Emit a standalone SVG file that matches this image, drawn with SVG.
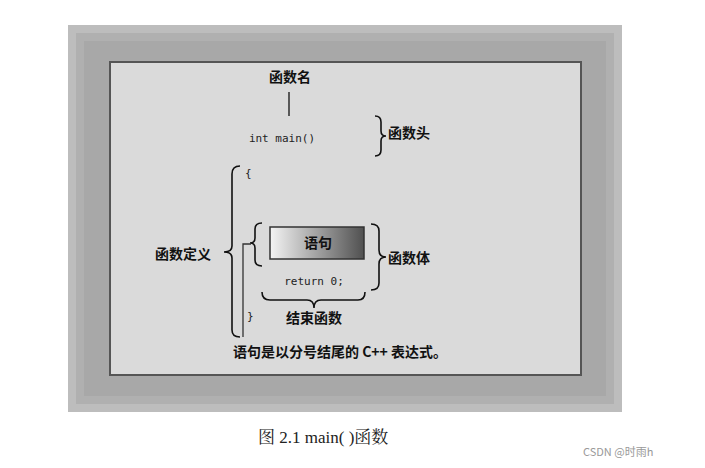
<svg xmlns="http://www.w3.org/2000/svg" width="705" height="468" viewBox="0 0 705 468">
<defs>
<linearGradient id="g" x1="0" x2="1" y1="0" y2="0"><stop offset="0" stop-color="#f4f4f4"/><stop offset="1" stop-color="#505050"/></linearGradient>
<style>
.cn{font-family:"Noto Sans CJK SC",sans-serif;font-weight:bold;font-size:14px;fill:#111}
.mono{font-family:"DejaVu Sans Mono",monospace;font-size:11px;fill:#222}
.br{fill:none;stroke:#111;stroke-width:1.6}
</style>
</defs>
<rect width="705" height="468" fill="#fff"/>
<g id="frame">
<rect x="68" y="25" width="554" height="387" fill="#a8a8a8"/>
<rect x="72" y="29" width="546" height="379" fill="none" stroke="#bdbdbd" stroke-width="8"/>
<rect x="80" y="37" width="530" height="363" fill="none" stroke="#b0b0b0" stroke-width="8"/>
<rect x="110" y="62" width="471" height="313" fill="#dadada" stroke="#555" stroke-width="2"/>
</g>
<g id="connectors">
<line x1="289" y1="92" x2="289" y2="116" stroke="#111" stroke-width="1.3"/>
<path class="br" d="M375 116 Q381 116 381 122 L381 131 Q381 136 386 136 Q381 136 381 141 L381 150 Q381 156 375 156"/>
<path class="br" d="M240 166 Q232 166 232 174 L232 246 Q232 252 224 252 Q232 252 232 258 L232 330 Q232 337 240 337"/>
<path class="br" d="M262 223 Q255 223 255 229 L255 238 Q255 243 250 243 Q255 243 255 248 L255 260 Q255 266 262 266"/>
<path fill="none" stroke="#333" stroke-width="1.3" d="M243 337 V244 H251"/>
<path class="br" d="M371 224 Q379 224 379 231 L379 250 Q379 257 386 257 Q379 257 379 264 L379 283 Q379 290 371 290"/>
<path class="br" d="M262 292 Q262 300 270 300 L307 300 Q314 300 314 308 Q314 300 321 300 L358 300 Q365 300 365 292"/>
</g>
<g id="n-name"><text class="cn" x="290" y="82" text-anchor="middle">函数名</text></g>
<g id="n-head"><text class="mono" x="282" y="142" text-anchor="middle">int main()</text><text class="cn" x="388" y="138">函数头</text></g>
<g id="n-braces"><text class="mono" x="245" y="177">{</text><text class="mono" x="247" y="320">}</text></g>
<g id="n-def"><text class="cn" x="183" y="259" text-anchor="middle">函数定义</text></g>
<g id="n-stmt"><rect x="270" y="227" width="94" height="32" fill="url(#g)" stroke="#333" stroke-width="1.5"/><text class="cn" x="318" y="248" text-anchor="middle">语句</text></g>
<g id="n-return"><text class="mono" x="314" y="285" text-anchor="middle">return 0;</text></g>
<g id="n-body"><text class="cn" x="388" y="263">函数体</text></g>
<g id="n-end"><text class="cn" x="314" y="323" text-anchor="middle">结束函数</text></g>
<g id="n-note"><text class="cn" x="233" y="357" style="font-family:'Noto Sans CJK SC','Liberation Serif',serif">语句是以分号结尾的 C++ 表达式。</text></g>
<text x="258" y="443" font-family="Liberation Serif,'Noto Serif CJK SC','Noto Sans CJK SC',serif" font-size="17" fill="#222">图 2.1    main( )函数</text>
<text x="583" y="456" font-family="Noto Sans CJK SC,sans-serif" font-size="11" fill="#999">CSDN @时雨h</text>
</svg>
